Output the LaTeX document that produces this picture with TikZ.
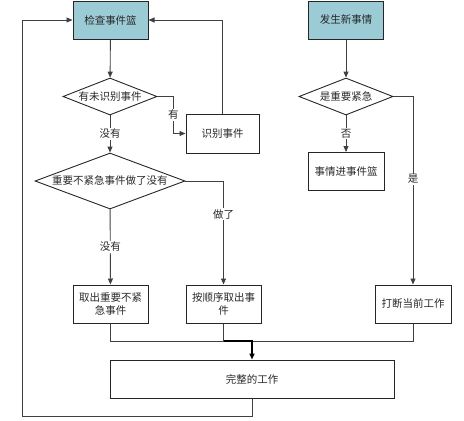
\documentclass[tikz,border=0pt]{standalone}
\usepackage{fontspec}
\newfontfamily\cjk{Noto Sans CJK SC}
\usepackage{xcolor}
\usepackage{tikz}
\usetikzlibrary{arrows.meta, calc, shapes.geometric}
\definecolor{basketteal}{RGB}{155,204,214}
\definecolor{linegray}{RGB}{64,64,64}
\definecolor{textgray}{RGB}{40,40,40}

\begin{document}
\begin{tikzpicture}[x=1pt, y=-1pt, >={Triangle[length=6pt,width=5pt]},
  box/.style={draw=black!85, line width=1pt, rectangle, minimum width=75pt, minimum height=38pt,
    inner sep=1pt, align=center, text=textgray, font=\cjk\fontsize{10.5}{13}\selectfont},
  startbox/.style={box, fill=basketteal},
  ask/.style={draw=black!85, line width=0.9pt, diamond, inner sep=0pt, text=textgray,
    font=\cjk\fontsize{10.5}{13}\selectfont},
  link/.style={draw=linegray, line width=0.9pt},
  lbl/.style={fill=white, inner sep=1pt, text=textgray, font=\cjk\fontsize{10.5}{13}\selectfont}]

\useasboundingbox (0,0) rectangle (464,421);

\node[startbox] (check) at (110.5,20) {检查事件篮};
\node[startbox] (newev) at (346,20) {发生新事情};
\node[ask, aspect=2.5, minimum width=94pt, minimum height=37pt] (q1) at (110,96.5) {有未识别事件};
\node[ask, aspect=2.54, minimum width=94pt, minimum height=37pt] (q3) at (346,96.5) {是重要紧急};
\node[box, minimum width=73pt, minimum height=39pt] (ident) at (222.5,133.5) {识别事件};
\node[ask, aspect=2.68, minimum width=150pt, minimum height=56pt] (q2) at (110,181) {重要不紧急事件做了没有};
\node[box, minimum width=76pt] (inbox) at (346,171.5) {事情进事件篮};
\node[box] (pick) at (110.5,304) {取出重要不紧\\急事件};
\node[box] (order) at (223.5,304) {按顺序取出事\\件};
\node[box, minimum width=76pt] (stop) at (413,304) {打断当前工作};
\node[box, minimum width=284pt] (done) at (252,379) {完整的工作};

\coordinate (merge) at (252,341);
\coordinate (loop) at (22,416);

\draw[link, ->] (check) -- (q1);
\draw[link, ->] (q1.east) -- ++(16,0) |- node[lbl, pos=0.25] {有} (ident.west);
\draw[link, ->] (ident.north) |- (check.east);
\draw[link, ->] (q1) -- node[lbl] {没有} (q2);
\draw[link, ->] (q2) -- node[lbl] {没有} (pick);
\draw[link, ->] (q2.east) -| node[lbl, pos=0.66] {做了} (order.north);
\draw[link, ->] (newev) -- (q3);
\draw[link, ->] (q3) -- node[lbl] {否} (inbox);
\draw[link, ->] (q3.east) -| node[lbl, pos=0.72] {是} (stop.north);
\draw[link] (pick.south) |- (merge);
\draw[link] (order.south) -- (order.south |- merge);
\draw[link] (stop.south) |- (merge);
\draw[line width=1.6pt, ->] (order.south |- merge) -- (merge) -- (done.north);
\draw[link, ->] (done.south) |- (loop) |- (check.west);

\end{tikzpicture}
\end{document}
